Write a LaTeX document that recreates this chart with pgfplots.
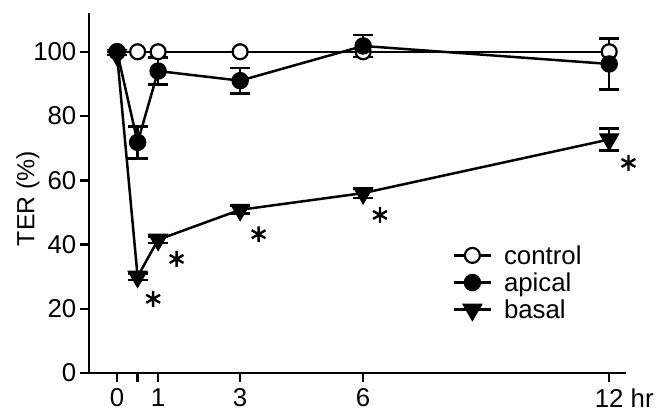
\documentclass[border=0pt]{standalone}
\usepackage{pgfplots}
\pgfplotsset{compat=1.18}
\usepackage{fontspec}
\setmainfont{Liberation Sans}
\begin{document}
\begin{tikzpicture}
\begin{axis}[
  scale only axis,
  width=539bp, height=361bp,
  xmin=-0.69, xmax=12.41, ymin=0, ymax=112,
  axis x line=bottom, axis y line=left,
  axis line style={-, line width=2.5bp},
  every tick/.style={line width=2.5bp, black},
  major tick length=9bp,
  tick align=outside,
  xtick={0,0.5,1,3,6,12},
  xticklabels={0,,1,3,6,\phantom{ hr}12 hr},
  ytick={0,20,40,60,80,100},
  /pgf/number format/assume math mode=true,
  tick label style={font=\fontsize{26}{30}\selectfont},
  xticklabel style={yshift=-3bp},
  ylabel={TER (\%)},
  ylabel style={font=\fontsize{25}{30}\selectfont, at={(ticklabel cs:0.485)}, yshift=-13bp},
  legend style={draw=none, fill=none, font=\fontsize{26}{30}\selectfont,
    at={(rel axis cs:0.677,0.361)}, anchor=north west,
    row sep=3bp, inner sep=0pt,
    /tikz/every odd column/.append style={column sep=10bp}},
  legend cell align=left,
  legend image code/.code={\draw[#1, mark repeat=2, mark phase=2] plot coordinates {(0bp,0bp) (18.5bp,0bp) (37bp,0bp)};},
  error bars/error bar style={line width=2.5bp, black},
  error bars/error mark options={rotate=90, mark size=10bp, line width=2.5bp, black},
  clip=false,
]
\addplot[black, line width=2.5bp, mark=*, mark size=7.5bp, mark options={fill=white, line width=2.2bp}]
  coordinates {(0,100) (0.5,100) (1,100) (3,100) (6,100) (12,100)};
\addlegendentry{control}
\addplot[black, line width=2.5bp, mark=*, mark size=7.5bp, mark options={fill=black},
  error bars/.cd, y dir=both, y explicit]
  coordinates {(0,100) +- (0,0) (0.5,71.8) +- (0,5) (1,94) +- (0,4.2) (3,91) +- (0,4) (6,101.8) +- (0,3.4) (12,96.2) +- (0,8)};
\addlegendentry{apical}
\addplot[black, line width=2.5bp, mark=triangle*, mark size=11bp, mark options={fill=black, rotate=180, line width=1bp},
  error bars/.cd, y dir=both, y explicit]
  coordinates {(0,99) +- (0,0) (0.5,30) +- (0,1) (1,41.5) +- (0,1) (3,50.8) +- (0,1.2) (6,56) +- (0,1.5) (12,72.7) +- (0,3.4)};
\addlegendentry{basal}
\addplot[black, only marks, mark=asterisk, mark size=8bp, mark options={line width=2.4bp}, forget plot]
  coordinates {(0.88,23.1) (1.45,35.5) (3.45,43.2) (6.41,49.2) (12.47,65.4)};
\end{axis}
\path ([xshift=-13bp,yshift=-6bp]current bounding box.south west) rectangle ([xshift=1bp,yshift=12bp]current bounding box.north east);
\end{tikzpicture}
\end{document}
